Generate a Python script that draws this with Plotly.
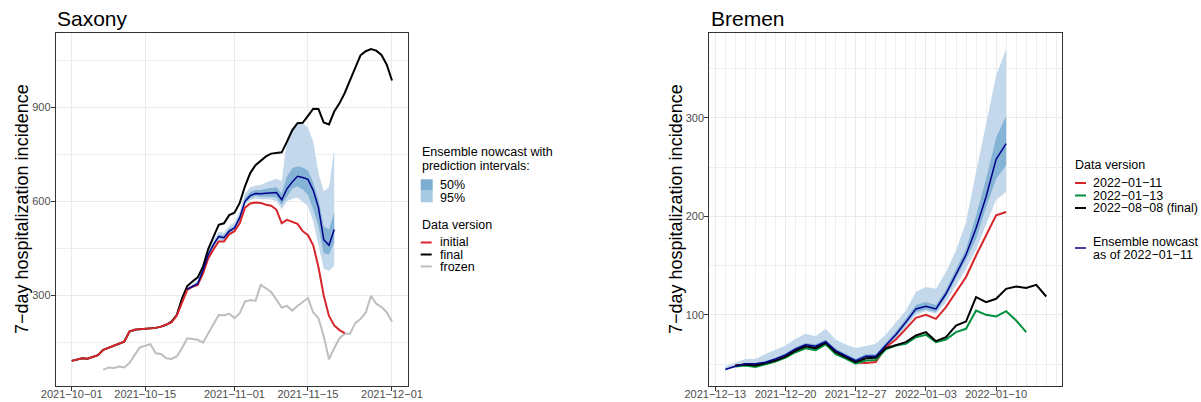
import pandas as pd
import plotly.graph_objects as go

# ---------------- data: Saxony (daily, starting dates given) ----------------
sx_final_start = "2021-10-01"
sx_final = [92, 97, 100, 99, 104, 110, 127, 134, 141, 147,
            153, 185, 191, 193, 194, 196, 197, 201, 207, 217,
            238, 290, 330, 345, 358, 392, 448, 487, 525, 530,
            556, 564, 595, 648, 690, 715, 730, 743, 752, 754,
            756, 790, 826, 849, 850, 872, 895, 894, 851, 845,
            886, 912, 945, 985, 1025, 1065, 1078, 1085, 1080, 1066,
            1035, 985]
sx_initial_start = "2021-10-01"
sx_initial = [92, 97, 100, 99, 104, 110, 127, 134, 141, 147,
              153, 185, 191, 193, 194, 196, 197, 201, 207,
              214, 236, 280, 318, 328, 334, 370, 418, 447, 472, 472,
              495, 505, 530, 580, 593, 596, 595, 589, 586, 573,
              530, 541, 535, 528, 505, 492, 460, 390, 300, 235, 205, 190, 180]
sx_frozen_start = "2021-10-07"
sx_frozen = [63, 71, 69, 74, 71, 85, 111, 135, 140, 145,
             116, 114, 100, 98, 106, 132, 164, 162, 159, 150,
             180, 212, 238, 237, 242, 228, 244, 281, 286, 283,
             334, 323, 311, 286, 262, 267, 252, 267, 281, 292,
             246, 228, 170, 97, 132, 164, 178, 178, 212, 225,
             246, 299, 274, 263, 247, 217]
sx_nowcast_start = "2021-10-23"
sx_nowcast = [320, 330, 338, 380, 430, 462, 488, 484, 505, 515,
              548, 600, 618, 625, 624, 626, 626, 628, 605, 640,
              662, 680, 676, 670, 635, 580, 478, 460, 510]
sx_q95_hi = [324, 336, 348, 392, 445, 476, 503, 500, 522, 533,
             568, 625, 645, 650, 652, 660, 665, 672, 665, 800,
             835, 845, 848, 835, 790, 690, 632, 645, 765]
sx_q95_lo = [316, 325, 330, 372, 422, 452, 476, 474, 496, 506,
             535, 588, 604, 608, 607, 607, 606, 600, 575, 600,
             608, 612, 598, 585, 535, 465, 385, 378, 395]
sx_q50_hi = [322, 333, 342, 385, 436, 467, 494, 491, 512, 522,
             555, 610, 630, 636, 636, 640, 642, 645, 625, 680,
             705, 712, 708, 698, 660, 605, 520, 510, 565]
sx_q50_lo = [318, 328, 335, 376, 426, 457, 482, 478, 500, 510,
             540, 595, 610, 617, 615, 615, 615, 612, 588, 615,
             640, 648, 638, 620, 575, 520, 435, 430, 468]
sx_ticks = ["2021-10-01", "2021-10-15", "2021-11-01", "2021-11-15", "2021-12-01"]
sx_yticks = [300, 600, 900]
sx_versions = ["initial", "final", "frozen"]

# ---------------- data: Bremen ----------------
hb_nowcast_start = "2021-12-14"
hb_nowcast = [44.4, 47.8, 50.2, 50.2, 51.9, 55.2, 59.3, 65.4, 69.5, 68.1,
              72.8, 63.7, 58.6, 53.5, 58, 58, 69, 79.7, 92.6, 106,
              108.8, 106, 121.4, 141.7, 161, 188, 220, 258, 274]
hb_q95_hi = [47.8, 51.9, 55.2, 55.2, 60.3, 64.4, 68.8, 75.6, 80.7, 78.3,
             85.8, 74.9, 69.8, 66.4, 68.8, 70.5, 80, 92.6, 104.4, 123.1,
             128.2, 126.4, 143.4, 165.4, 194.3, 245, 295, 343, 370]
hb_q95_lo = [44, 46.8, 48.5, 47.8, 50.2, 53.5, 58, 63.7, 67.1, 65.4,
             70.5, 61.3, 57, 51.9, 55.2, 55.9, 66, 77, 87.5, 100,
             104, 101, 112.9, 129.8, 146.8, 166, 191, 217, 224.8]
hb_q50_hi = [45, 48.5, 51, 51, 53, 56.5, 61, 67, 71.5, 70,
             75, 65.5, 60.5, 55.5, 60, 60, 71.5, 83, 96, 110,
             113, 110, 125.5, 146, 167, 201, 238, 280, 302]
hb_q50_lo = [44.2, 47.2, 49.5, 49.4, 51, 54.2, 58.4, 64.3, 68.3, 67,
             71.5, 62.5, 57.6, 52.5, 57, 57, 67.5, 77.5, 90, 103,
             105.5, 103, 118, 137, 156, 177, 209, 238, 252]
hb_final_start = "2021-12-15"
hb_final = [48.5, 49.5, 48.5, 50.8, 53.5, 57.6, 63.7, 68.1, 66.1, 71.5,
            62, 57, 51.9, 55.9, 56.3, 66.1, 69.5, 72.2, 79, 82.4,
            73.2, 77.3, 89.1, 93.2, 118, 112.9, 116.3, 126.4, 128.8, 127.2,
            130.5, 118.6]
hb_v0111_start = "2021-12-15"
hb_v0111 = [48.5, 49.5, 48.5, 50.8, 53.5, 57.6, 63.7, 68.1, 66.1, 71.5,
            62, 57, 51.5, 51, 52, 67.1, 74.9, 85.8, 96.9, 100,
            95.9, 107.8, 123.1, 138.4, 160.3, 180.7, 201, 204.5]
hb_v0113_start = "2021-12-15"
hb_v0113 = [47.5, 48.5, 47, 50, 52.5, 56.5, 62, 66, 64, 70,
            60, 55.5, 50.5, 53.5, 54, 65, 68.8, 70.5, 77.3, 79.7,
            72.2, 74.9, 82.4, 85.8, 104.4, 100, 98.3, 103.7, 94.2, 82.4]
hb_ticks = ["2021-12-13", "2021-12-20", "2021-12-27", "2022-01-03", "2022-01-10"]
hb_yticks = [100, 200, 300]
hb_versions = ["2022-01-11", "2022-01-13", "2022-08-08 (final)"]
hb_nowcast_label = ["Ensemble nowcast", "as of 2022-01-11"]

# ---------------- styling ----------------
W, H = 1201, 402
FONT = "Liberation Sans, Arial, sans-serif"
RED, GREEN, BLACK, GRAY, NAVY = "#D7262B", "#00913F", "#000000", "#BEBEBE", "#00008B"
C95, C50 = "#C3D9EB", "#84B3D6"
LEG95, LEG50 = "#A8C9E2", "#7CAED4"
MINUS = "\u2212"


def dates(start, vals):
    return pd.date_range(start, periods=len(vals), freq="D")


def lab(s):
    return s.replace("-", MINUS)


fig = go.Figure()


def add_band(x, lo, hi, color, xa, ya):
    fig.add_trace(go.Scatter(x=x, y=lo, mode="lines", line=dict(width=0, color=color),
                             showlegend=False, hoverinfo="skip", xaxis=xa, yaxis=ya))
    fig.add_trace(go.Scatter(x=x, y=hi, mode="lines", line=dict(width=0, color=color),
                             fill="tonexty", fillcolor=color,
                             showlegend=False, hoverinfo="skip", xaxis=xa, yaxis=ya))


def add_line(x, y, color, width, xa, ya):
    fig.add_trace(go.Scatter(x=x, y=y, mode="lines", line=dict(color=color, width=width),
                             showlegend=False, xaxis=xa, yaxis=ya))


# Saxony
xs_now = dates(sx_nowcast_start, sx_nowcast)
add_band(xs_now, sx_q95_lo, sx_q95_hi, C95, "x", "y")
add_band(xs_now, sx_q50_lo, sx_q50_hi, C50, "x", "y")
add_line(dates(sx_frozen_start, sx_frozen), sx_frozen, GRAY, 2, "x", "y")
add_line(dates(sx_final_start, sx_final), sx_final, BLACK, 2, "x", "y")
add_line(dates(sx_initial_start, sx_initial), sx_initial, RED, 2, "x", "y")
add_line(xs_now, sx_nowcast, NAVY, 1.5, "x", "y")

# Bremen
xb_now = dates(hb_nowcast_start, hb_nowcast)
add_band(xb_now, hb_q95_lo, hb_q95_hi, C95, "x2", "y2")
add_band(xb_now, hb_q50_lo, hb_q50_hi, C50, "x2", "y2")
add_line(dates(hb_v0111_start, hb_v0111), hb_v0111, RED, 2, "x2", "y2")
add_line(dates(hb_v0113_start, hb_v0113), hb_v0113, GREEN, 2, "x2", "y2")
add_line(dates(hb_final_start, hb_final), hb_final, BLACK, 2, "x2", "y2")
add_line(xb_now, hb_nowcast, NAVY, 1.5, "x2", "y2")

# ---------------- axes ----------------
def px_x(px):
    return px / W


def px_y(py):
    return 1 - py / H


ydom = [px_y(386), px_y(33)]


def x_range(start_date, end_date, frac=0.05):
    s, e = pd.Timestamp(start_date), pd.Timestamp(end_date)
    pad = (e - s) * frac
    return [str(s - pad), str(e + pad)]


def y_range(lo, hi, frac=0.05):
    pad = (hi - lo) * frac
    return [lo - pad, hi + pad]


common_axis = dict(showline=True, linecolor="#333333", linewidth=1, mirror=True,
                   ticks="outside", ticklen=4, tickwidth=1, tickcolor="#333333",
                   showgrid=True, gridcolor="#EBEBEB", gridwidth=1, zeroline=False,
                   automargin=False,
                   tickfont=dict(family=FONT, size=11, color="#4D4D4D"))

sx_dates_all = list(dates(sx_final_start, sx_final)) + list(dates(sx_frozen_start, sx_frozen))
sx_vals_all = sx_final + sx_frozen + sx_initial + sx_q95_hi + sx_q95_lo
hb_dates_all = list(xb_now) + list(dates(hb_final_start, hb_final))
hb_vals_all = hb_final + hb_v0111 + hb_v0113 + hb_q95_hi + hb_q95_lo + hb_nowcast

fig.update_layout(
    xaxis=dict(domain=[px_x(55.7), px_x(408)], anchor="y",
               range=x_range(min(sx_dates_all), max(sx_dates_all)),
               tickmode="array", tickvals=sx_ticks, ticktext=[lab(t) for t in sx_ticks],
               ticklabelstandoff=-6, **common_axis),
    yaxis=dict(domain=ydom, anchor="x",
               range=y_range(min(sx_vals_all), max(sx_vals_all)),
               tickmode="array", tickvals=sx_yticks, ticktext=[str(v) for v in sx_yticks],
               minor=dict(tickmode="linear", tick0=0, dtick=150, showgrid=True,
                          gridcolor="#EEEEEE", gridwidth=0.7, ticks=""),
               ticklabelstandoff=-2, **common_axis),
    xaxis2=dict(domain=[px_x(709.3), px_x(1062.3)], anchor="y2",
                range=x_range(min(hb_dates_all), max(hb_dates_all)),
                tickmode="array", tickvals=hb_ticks, ticktext=[lab(t) for t in hb_ticks],
                minor=dict(tickmode="linear", tick0=hb_ticks[0], dtick=86400000, showgrid=True,
                           gridcolor="#EEEEEE", gridwidth=0.7, ticks=""),
                ticklabelstandoff=-6, **common_axis),
    yaxis2=dict(domain=ydom, anchor="x2",
                range=y_range(min(hb_vals_all), max(hb_vals_all)),
                tickmode="array", tickvals=hb_yticks, ticktext=[str(v) for v in hb_yticks],
                minor=dict(tickmode="linear", tick0=0, dtick=50, showgrid=True,
                           gridcolor="#EEEEEE", gridwidth=0.7, ticks=""),
                ticklabelstandoff=-2, **common_axis),
)

# ---------------- titles, axis titles, legends ----------------
ann = []
shapes = []


def text(t, px, py, size, xanchor="left", angle=0, color="black"):
    ann.append(dict(text=t, x=px_x(px), y=px_y(py), xref="paper", yref="paper",
                    xanchor=xanchor, yanchor="middle", showarrow=False, textangle=angle,
                    font=dict(family=FONT, size=size, color=color)))


text("Saxony", 55, 18, 21)
text("Bremen", 708.5, 18, 21)
ytitle = lab("7-day hospitalization incidence")
text(ytitle, 21.5, 209.5, 18, xanchor="center", angle=-90)
text(ytitle, 675.5, 209.5, 18, xanchor="center", angle=-90)

# Saxony legend
LF = 12.5
text("Ensemble nowcast with", 419.5, 152, LF)
text("prediction intervals:", 419.5, 165.5, LF)
shapes.append(dict(type="rect", xref="paper", yref="paper", x0=px_x(420.7), x1=px_x(432.7),
                   y0=px_y(190.7), y1=px_y(179.3), fillcolor=LEG50, line=dict(width=0)))
shapes.append(dict(type="rect", xref="paper", yref="paper", x0=px_x(420.7), x1=px_x(432.7),
                   y0=px_y(202.3), y1=px_y(190.7), fillcolor=LEG95, line=dict(width=0)))
text("50%", 437.5, 185, LF)
text("95%", 437.5, 197.5, LF)
text("Data version", 419.5, 225, LF)
for name, col, py in zip(sx_versions, [RED, BLACK, GRAY], [242.5, 254.5, 266.5]):
    shapes.append(dict(type="line", xref="paper", yref="paper", x0=px_x(420.7), x1=px_x(431.7),
                       y0=px_y(py), y1=px_y(py), line=dict(color=col, width=2)))
    text(name, 437.5, py, LF)

# Bremen legend
text("Data version", 1073, 165, LF)
for name, col, py in zip(hb_versions, [RED, GREEN, BLACK], [183, 195.5, 208]):
    shapes.append(dict(type="line", xref="paper", yref="paper", x0=px_x(1075), x1=px_x(1086),
                       y0=px_y(py), y1=px_y(py), line=dict(color=col, width=2)))
    text(lab(name), 1091, py, LF)
shapes.append(dict(type="line", xref="paper", yref="paper", x0=px_x(1075), x1=px_x(1086),
                   y0=px_y(248), y1=px_y(248), line=dict(color=NAVY, width=1.5)))
text(lab(hb_nowcast_label[0]), 1091, 241.5, LF)
text(lab(hb_nowcast_label[1]), 1091, 254.5, LF)

fig.update_layout(
    width=W, height=H, margin=dict(l=0, r=0, t=0, b=0, autoexpand=False),
    paper_bgcolor="white", plot_bgcolor="white",
    showlegend=False, annotations=ann, shapes=shapes,
    font=dict(family=FONT),
)

fig.write_html("out.html", config={"displayModeBar": False},
               post_script="document.body.style.margin='0';document.body.style.overflow='hidden';")
